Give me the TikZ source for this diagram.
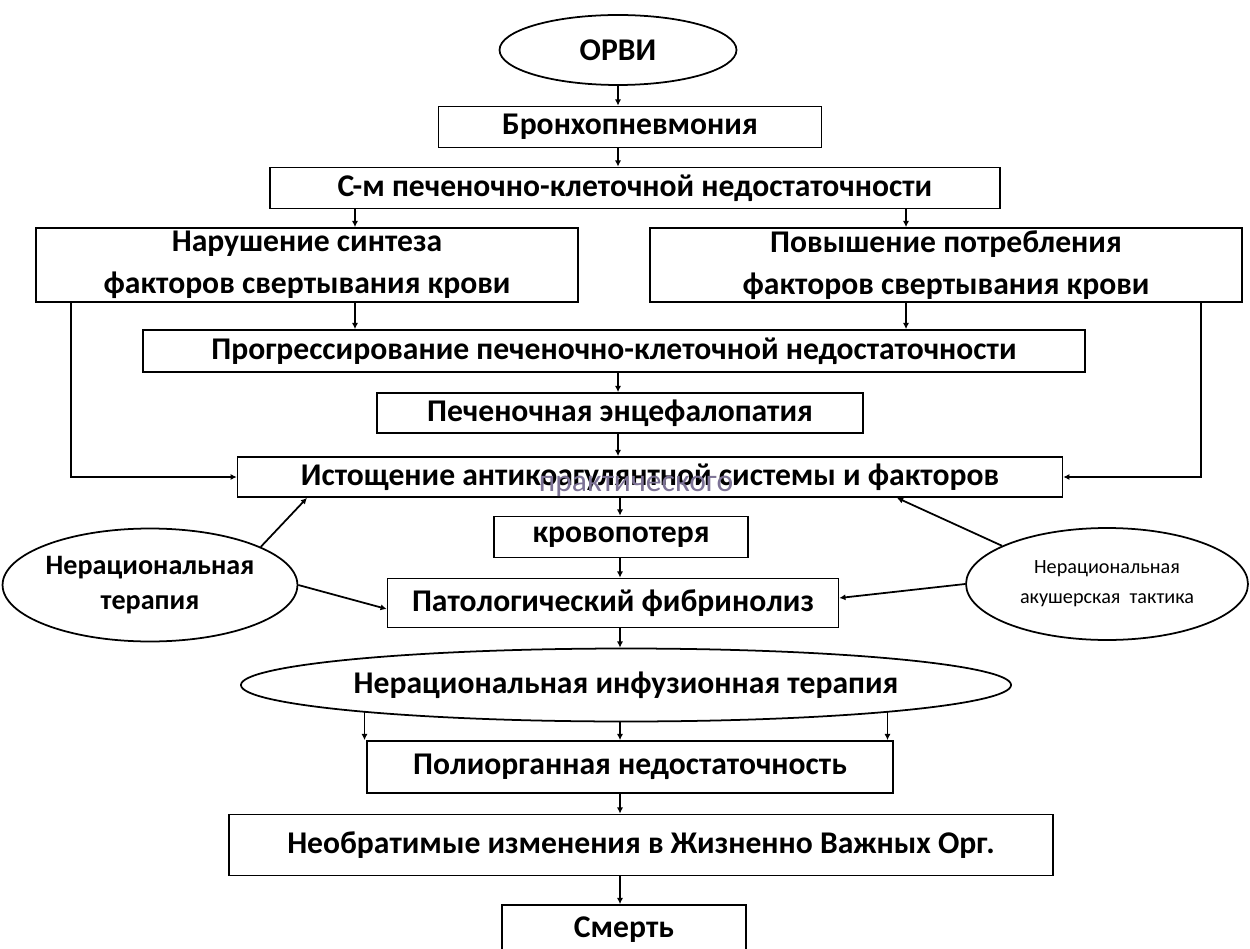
\documentclass[tikz,border=0pt]{standalone}
\usepackage{fontspec}
\setmainfont{Carlito}
\usetikzlibrary{arrows.meta,shapes.geometric}
\tikzset{
  blk/.style={draw, line width=1pt, inner sep=0pt, align=center,
    font=\bfseries\fontsize{18}{24}\selectfont},
  oval/.style={blk, ellipse},
  arr/.style={line width=1pt, -{Latex[length=3.5pt,width=3.5pt]}}
}
\begin{document}
\begin{tikzpicture}[x=0.02cm,y=-0.02cm]
\useasboundingbox (0,0) rectangle (1250,949);
\clip (0,0) rectangle (1250,949);
% x positions of the connectors
\coordinate (xm) at (618,0);
\coordinate (xc) at (620,0);
\coordinate (xL) at (355,0);
\coordinate (xR) at (906,0);
\coordinate (xLL) at (71,0);
\coordinate (xRR) at (1201,0);
\coordinate (xa) at (307,0);
\coordinate (xb) at (897,0);
% upper chain
\node[oval, minimum width=4.74cm, minimum height=1.4cm] (orvi) at (618,50) {ОРВИ};
\node[blk, minimum width=7.66cm, minimum height=0.82cm] (bron) at (630,127) {Бронхопневмония};
\node[blk, minimum width=14.6cm, minimum height=0.82cm] (sm) at (635,188) {С-м печеночно-клеточной недостаточности};
\node[blk, minimum width=10.84cm, minimum height=1.48cm] (synt) at (307,265) {Нарушение синтеза\\факторов свертывания крови};
\node[blk, minimum width=11.84cm, minimum height=1.48cm] (potr) at (946,265) {Повышение потребления\\факторов свертывания крови};
\node[blk, minimum width=18.84cm, minimum height=0.84cm] (progr) at (614,351) {Прогрессирование печеночно-клеточной недостаточности};
\node[blk, minimum width=9.72cm, minimum height=0.8cm] (enc) at (620,413) {Печеночная энцефалопатия};
\node[blk, minimum width=16.5cm, minimum height=0.8cm] (ist) at (650,477) {Истощение антикоагулянтной системы и факторов};
\node[font=\fontsize{18}{22}\selectfont, text={rgb,255:red,125;green,115;blue,150}] (prakt) at (636,486) {практического};
% lower chain
\node[blk, minimum width=5.08cm, minimum height=0.82cm] (krov) at (621,537) {кровопотеря};
\node[blk, minimum width=9.02cm, minimum height=0.98cm] (pat) at (613,603) {Патологический фибринолиз};
\node[oval, minimum width=5.66cm, minimum height=2.26cm, font=\bfseries\fontsize{16}{20}\selectfont] (lell) at (150,585) {Нерациональная\\терапия};
\node[oval, minimum width=5.64cm, minimum height=2.24cm, font=\fontsize{11.5}{17}\selectfont] (rell) at (1107,584) {Нерациональная\\акушерская\ \ тактика};
\node[oval, minimum width=14.68cm, minimum height=1.46cm] (inf) at (626,685) {Нерациональная инфузионная терапия};
\node[blk, minimum width=10.52cm, minimum height=1.04cm] (poly) at (630,767) {Полиорганная недостаточность};
\node[blk, minimum width=16.48cm, minimum height=1.22cm] (neo) at (641,845) {Необратимые изменения в Жизненно Важных Орг.};
\node[blk, minimum width=4.88cm, minimum height=1.0cm] (death) at (624,930) {Смерть};
% connectors
\draw[arr] (orvi.south) -- (orvi.south |- bron.north);
\draw[arr] (bron.south -| xm) -- (sm.north -| xm);
\draw[arr] (sm.south -| xL) -- (synt.north -| xL);
\draw[arr] (sm.south -| xR) -- (potr.north -| xR);
\draw[arr] (synt.south -| xL) -- (progr.north -| xL);
\draw[arr] (potr.south -| xR) -- (progr.north -| xR);
\draw[arr] (progr.south -| xm) -- (enc.north -| xm);
\draw[arr] (enc.south -| xm) -- (ist.north -| xm);
\draw[arr] (synt.south -| xLL) |- (ist.west);
\draw[arr] (potr.south -| xRR) |- (ist.east);
\draw[arr] (ist.south -| xc) -- (krov.north -| xc);
\draw[arr] (krov.south -| xc) -- (pat.north -| xc);
\draw[arr] (lell.19.5) -- (ist.south -| xa);
\draw[arr] (rell.160.5) -- (ist.south -| xb);
\draw[arr] (lell.east) -- ([yshift=-1.2mm]pat.west);
\draw[arr] (rell.west) -- ([yshift=1mm]pat.east);
\draw[arr] (pat.south -| xc) -- (inf.north -| xc);
\draw[arr] (inf.186.7) -- (inf.186.7 |- poly.north);
\draw[arr] (inf.south -| xc) -- (poly.north -| xc);
\draw[arr] (inf.-6.7) -- (inf.-6.7 |- poly.north);
\draw[arr] (poly.south -| xc) -- (neo.north -| xc);
\draw[arr] (neo.south -| xc) -- (death.north -| xc);
\end{tikzpicture}
\end{document}
